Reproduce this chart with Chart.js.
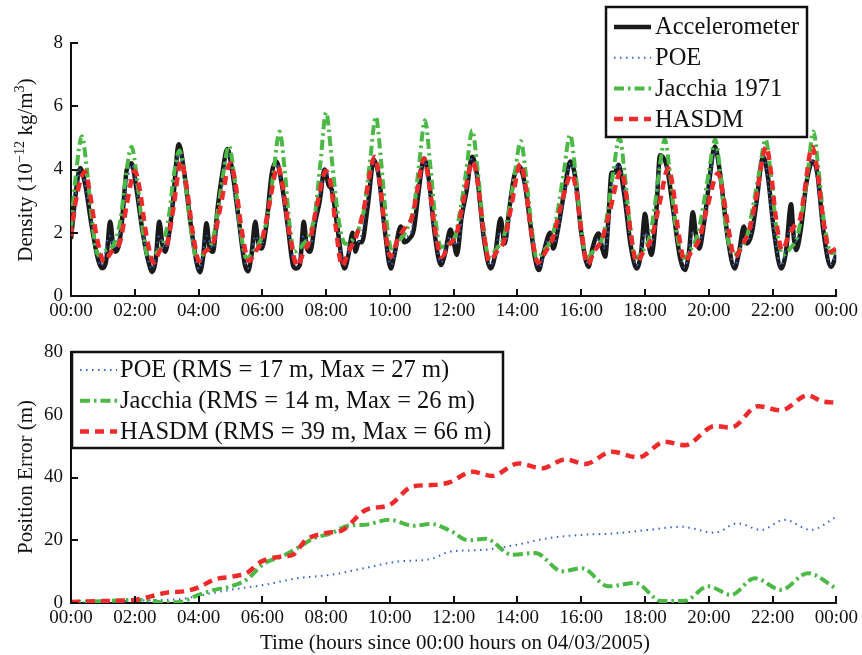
<!DOCTYPE html>
<html>
<head>
<meta charset="utf-8">
<script src="https://cdn.jsdelivr.net/npm/chart.js@4/dist/chart.umd.min.js"></script>
<style>
  body { margin: 0; background: #fff; }
  canvas { position: absolute; left: 0; }
  #density { top: 0; }
  #error { top: 320px; }
</style>
</head>
<body>
<canvas id="density" width="862" height="320"></canvas>
<canvas id="error" width="862" height="335"></canvas>
<script>
const hourTicks = ['00:00', '02:00', '04:00', '06:00', '08:00', '10:00', '12:00',
  '14:00', '16:00', '18:00', '20:00', '22:00', '00:00'];
const densityLabels = ['Accelerometer', 'POE', 'Jacchia 1971', 'HASDM'];
const errorLabels = ['POE (RMS = 17 m, Max = 27 m)', 'Jacchia (RMS = 14 m, Max = 26 m)',
  'HASDM (RMS = 39 m, Max = 66 m)'];

// density, hours since 00:00 -> 10^-12 kg/m^3
const accelTime = [
  0, 0.12, 0.29, 0.45, 0.65, 0.85, 0.97, 1.1, 1.23, 1.32, 1.4, 1.52, 1.62, 1.75,
  1.9, 2.05, 2.25, 2.45, 2.55, 2.65, 2.77, 2.87, 2.95, 3.08, 3.2,
  3.38, 3.55, 3.75, 3.95, 4.04, 4.14, 4.25, 4.35, 4.45, 4.6, 4.75,
  4.9, 5.05, 5.25, 5.45, 5.55, 5.66, 5.78, 5.88, 5.98, 6.12, 6.3,
  6.44, 6.6, 6.8, 6.97, 7.06, 7.18, 7.3, 7.4, 7.5, 7.65, 7.8,
  7.95, 8.08, 8.18, 8.35, 8.5, 8.58, 8.7, 8.83, 8.92, 9.02, 9.12, 9.3,
  9.5, 9.65, 9.85, 10.03, 10.14, 10.34, 10.45, 10.6, 10.75, 10.9,
  11.07, 11.22, 11.4, 11.6, 11.72, 11.9, 12.0, 12.1, 12.25, 12.4,
  12.58, 12.72, 12.95, 13.16, 13.3, 13.47, 13.6, 13.75, 13.9,
  14.05, 14.22, 14.4, 14.55, 14.67, 14.8, 15.03, 15.12, 15.25, 15.45,
  15.66, 15.82, 16.0, 16.23, 16.35, 16.54, 16.66, 16.75, 16.85, 16.95, 17.05,
  17.17, 17.35, 17.55, 17.74, 17.88, 18.0, 18.12, 18.2, 18.35,
  18.47, 18.68, 18.9, 19.1, 19.25, 19.38, 19.5, 19.6, 19.7, 19.85, 20.0,
  20.19, 20.35, 20.6, 20.81, 20.95, 21.1, 21.2, 21.35, 21.5,
  21.7, 21.85, 22.05, 22.27, 22.42, 22.58, 22.66, 22.74, 22.9, 23.05,
  23.26, 23.4, 23.6, 23.83, 24
];
const accelValue = [
  1.8, 3.0, 4.05, 3.5, 2.2, 1.15, 0.88, 1.1, 2.35, 1.6, 1.4, 1.7, 2.6, 4.0,
  4.2, 3.4, 2.0, 1.0, 0.76, 1.1, 2.35, 1.6, 1.4, 2.0, 3.0,
  4.8, 3.9, 2.3, 1.0, 0.75, 1.2, 2.3, 1.5, 1.4, 2.8, 3.9,
  4.65, 4.0, 2.5, 1.0, 0.78, 1.3, 2.35, 1.6, 1.5, 2.2, 3.9,
  4.25, 3.6, 2.2, 0.95, 0.87, 1.0, 2.35, 1.5, 1.4, 2.3, 3.0,
  4.0, 3.5, 3.35, 2.2, 1.1, 0.87, 1.3, 2.0, 1.4, 1.7, 1.7, 2.8,
  4.3, 3.8, 2.0, 0.87, 1.3, 2.2, 1.7, 1.8, 2.1, 3.3,
  4.35, 3.7, 2.0, 0.98, 1.3, 2.1, 1.7, 1.3, 2.5, 3.3,
  4.4, 3.9, 1.8, 0.87, 1.3, 2.45, 1.66, 2.8, 3.8,
  4.1, 3.6, 2.3, 1.2, 0.82, 1.3, 2.0, 1.5, 2.0, 3.2,
  4.25, 3.7, 2.0, 0.92, 1.5, 1.98, 1.5, 1.24, 2.4, 3.9, 3.9,
  4.15, 3.2, 1.6, 0.87, 1.4, 2.6, 1.6, 1.3, 2.6,
  4.45, 4.1, 2.6, 1.2, 0.82, 1.4, 2.65, 1.9, 1.5, 2.3, 3.5,
  4.73, 3.9, 1.8, 0.87, 1.4, 2.2, 1.66, 2.0, 3.0,
  4.4, 3.8, 2.0, 0.87, 1.4, 2.9, 1.9, 1.45, 2.2, 3.5,
  4.25, 3.9, 2.0, 0.92, 1.3
];

const poeTime = [
  0, 0.3, 0.55, 0.95, 1.2, 1.4, 1.65, 1.9, 2.2, 2.55,
  2.77, 2.95, 3.2, 3.38, 3.7, 4.02, 4.25, 4.45, 4.7, 4.9,
  5.2, 5.55, 5.78, 5.98, 6.25, 6.45, 6.75, 7.06, 7.3, 7.5,
  7.75, 7.97, 8.25, 8.57, 8.83, 9.0, 9.25, 9.5, 9.8, 10.03,
  10.34, 10.6, 10.85, 11.07, 11.35, 11.6, 11.9, 12.1, 12.35, 12.58,
  12.9, 13.16, 13.47, 13.65, 13.9, 14.07, 14.35, 14.67, 15.0, 15.15,
  15.45, 15.66, 15.95, 16.23, 16.54, 16.75, 17.0, 17.18, 17.5, 17.74,
  18.0, 18.2, 18.48, 18.7, 19.05, 19.25, 19.5, 19.7, 20.0, 20.2,
  20.55, 20.81, 21.1, 21.25, 21.5, 21.72, 22.0, 22.27, 22.58, 22.75,
  23.05, 23.26, 23.55, 23.83, 24
];
const poeValue = [
  1.9, 4.0, 2.9, 0.95, 1.9, 1.5, 2.8, 4.15, 2.3, 0.85,
  1.9, 1.5, 3.0, 4.6, 2.5, 0.85, 1.9, 1.5, 3.1, 4.5,
  2.6, 0.88, 1.9, 1.6, 3.3, 4.2, 2.4, 0.95, 1.9, 1.6,
  2.9, 4.0, 3.0, 0.95, 1.7, 1.7, 2.7, 4.3, 2.3, 0.98,
  1.9, 1.9, 3.1, 4.3, 2.3, 1.05, 1.9, 1.6, 3.1, 4.35,
  2.1, 0.95, 2.0, 1.8, 3.6, 4.1, 2.7, 0.9, 1.8, 1.7,
  3.1, 4.2, 2.3, 0.98, 1.8, 1.5, 3.7, 4.15, 2.0, 0.95,
  2.0, 1.6, 4.2, 4.0, 1.7, 0.9, 2.0, 1.7, 3.4, 4.6,
  2.1, 0.95, 1.8, 1.8, 3.0, 4.4, 2.3, 0.95, 2.2, 1.7,
  3.4, 4.3, 2.3, 1.0, 1.35
];

const jacTime = [
  0, 0.15, 0.34, 0.5, 0.68, 0.85, 1.1, 1.35, 1.55, 1.72,
  1.9, 2.07, 2.25, 2.43, 2.65, 2.9, 3.08, 3.22,
  3.4, 3.57, 3.75, 3.95, 4.2, 4.45, 4.62, 4.78,
  4.95, 5.12, 5.3, 5.5, 5.75, 6.0, 6.18, 6.35,
  6.54, 6.7, 6.85, 7.0, 7.25, 7.5, 7.65, 7.82,
  8.0, 8.17, 8.38, 8.6, 8.85, 9.05, 9.2, 9.38,
  9.56, 9.72, 9.88, 10.05, 10.3, 10.55, 10.75, 10.92,
  11.1, 11.26, 11.42, 11.6, 11.85, 12.05, 12.22, 12.4,
  12.58, 12.75, 12.92, 13.1, 13.35, 13.58, 13.75, 13.92,
  14.1, 14.27, 14.43, 14.6, 14.85, 15.1, 15.28, 15.45,
  15.65, 15.82, 15.98, 16.15, 16.4, 16.65, 16.82, 17.0,
  17.2, 17.36, 17.52, 17.7, 17.95, 18.15, 18.3, 18.45,
  18.62, 18.78, 18.95, 19.22, 19.45, 19.65, 19.82, 20.0,
  20.2, 20.36, 20.52, 20.78, 21.0, 21.2, 21.38, 21.58,
  21.78, 21.94, 22.1, 22.32, 22.55, 22.78, 22.95, 23.1,
  23.28, 23.44, 23.62, 23.85, 24
];
const jacValue = [
  2.2, 3.8, 5.05, 4.0, 2.2, 1.3, 1.45, 1.65, 2.4, 3.8,
  4.72, 3.7, 2.1, 1.2, 1.35, 1.7, 2.6, 3.8,
  4.6, 3.7, 2.2, 1.15, 1.4, 1.8, 2.8, 3.9,
  4.75, 3.8, 2.2, 1.2, 1.45, 1.9, 2.6, 3.9,
  5.2, 4.0, 2.3, 1.4, 1.6, 2.0, 2.6, 4.2,
  5.8, 4.4, 2.5, 1.65, 1.8, 2.2, 2.8, 4.3,
  5.67, 4.3, 2.5, 1.5, 1.75, 2.15, 2.8, 4.2,
  5.56, 4.2, 2.5, 1.55, 1.65, 1.9, 2.8, 4.0,
  5.24, 4.0, 2.3, 1.25, 1.5, 1.9, 2.8, 3.9,
  4.9, 3.8, 2.3, 1.2, 1.45, 1.9, 2.8, 3.9,
  5.1, 3.9, 2.3, 1.2, 1.45, 1.8, 2.6, 3.9,
  5.0, 3.9, 2.3, 1.2, 1.45, 1.9, 2.8, 4.0,
  4.95, 3.9, 2.3, 1.2, 1.5, 1.95, 2.8, 3.9,
  4.95, 3.9, 2.3, 1.3, 1.5, 1.9, 2.8, 3.9,
  4.95, 3.9, 2.3, 1.3, 1.5, 1.9, 2.8, 3.9,
  5.2, 4.0, 2.3, 1.35, 1.45
];

const hasTime = [
  0, 0.15, 0.44, 0.6, 0.8, 1.05, 1.2, 1.35, 1.55, 1.75,
  2.0, 2.15, 2.35, 2.6, 2.8, 3.0, 3.2,
  3.45, 3.62, 3.82, 4.02, 4.2, 4.45, 4.7,
  5.0, 5.15, 5.35, 5.58, 5.78, 6.0, 6.2,
  6.49, 6.65, 6.85, 7.1, 7.3, 7.5, 7.7,
  8.0, 8.15, 8.3, 8.5, 8.7, 8.95, 9.15,
  9.53, 9.68, 9.85, 10.02, 10.25, 10.5, 10.7, 10.85,
  11.07, 11.22, 11.4, 11.62, 11.85, 12.1, 12.3,
  12.6, 12.75, 12.93, 13.12, 13.35, 13.6, 13.8,
  14.1, 14.25, 14.42, 14.65, 14.88, 15.1, 15.35,
  15.7, 15.85, 16.0, 16.2, 16.4, 16.65, 16.9,
  17.25, 17.4, 17.55, 17.74, 17.95, 18.2, 18.45,
  18.73, 18.88, 19.05, 19.25, 19.45, 19.7, 19.95,
  20.29, 20.45, 20.62, 20.81, 21.05, 21.3, 21.5,
  21.8, 21.95, 22.1, 22.3, 22.5, 22.7, 22.88, 23.0,
  23.24, 23.4, 23.58, 23.8, 24
];
const hasValue = [
  1.9, 3.0, 3.93, 3.2, 1.9, 1.08, 1.3, 1.5, 1.75, 2.9,
  3.95, 3.4, 2.0, 1.05, 1.45, 1.6, 2.7,
  4.25, 3.5, 2.0, 1.1, 1.4, 1.65, 2.9,
  4.2, 3.6, 2.1, 1.1, 1.4, 1.8, 2.8,
  4.1, 3.4, 2.0, 0.95, 1.4, 1.8, 2.8,
  3.95, 3.5, 2.2, 0.95, 1.4, 1.9, 2.6,
  4.4, 3.6, 2.1, 1.25, 1.8, 2.2, 2.5, 3.3,
  4.35, 3.6, 2.2, 1.24, 1.6, 2.0, 3.0,
  4.25, 3.6, 2.1, 1.1, 1.4, 1.8, 2.8,
  4.18, 3.5, 2.1, 1.05, 1.4, 1.8, 2.8,
  3.85, 3.3, 2.1, 1.0, 1.4, 1.8, 2.7,
  3.95, 3.3, 2.0, 1.08, 1.4, 1.8, 2.9,
  4.04, 3.4, 2.0, 1.1, 1.4, 1.8, 2.8,
  3.88, 3.2, 2.1, 1.24, 1.6, 2.2, 3.2,
  4.72, 3.9, 2.5, 1.45, 1.9, 2.24, 2.5, 3.3,
  4.72, 4.0, 2.5, 1.4, 1.5
];

// position error, hours -> m
const poeErrTime = [0, 1, 2, 2.9, 3.5, 4.0, 5.0, 6.07, 7.1, 8.16, 9.2, 10.24, 11.28, 11.9,
  12.9, 13.94, 14.98, 16.02, 17.06, 18.1, 19.14, 20.19, 20.9, 21.64, 22.37, 23.2, 24];
const poeErrValue = [0.1, 0.3, 0.8, 1.0, 1.3, 2.3, 4.2, 5.8, 7.9, 9.0, 11.1, 13.2, 14.0, 16.4,
  16.9, 18.5, 20.7, 21.7, 22.2, 23.3, 24.3, 22.4, 25.4, 23.3, 26.5, 23.3, 27.5];

const jacErrTime = [0, 1, 2, 2.5, 2.9, 3.4, 4.0, 4.5, 5.02, 5.5, 6.07, 6.6, 7.1, 7.63, 8.16,
  8.68, 9.2, 9.98, 10.76, 11.28, 11.9, 12.45, 13.0, 13.83, 14.56, 15.4, 16.02, 16.85, 17.69,
  18.52, 19.25, 19.98, 20.7, 21.44, 22.27, 23.1, 24];
const jacErrValue = [0.3, 0.6, 1.0, 0.8, 0.2, 0.3, 2.6, 4.2, 5.3, 7.4, 12.7, 14.8, 17.5, 20.7, 22.2,
  24.6, 24.9, 26.5, 24.6, 25.2, 23.0, 20.0, 20.5, 15.4, 15.9, 10.1, 11.1, 5.3, 6.4,
  0.6, 0.7, 5.3, 2.6, 7.9, 4.2, 9.5, 4.6];

const hasErrTime = [0, 1, 2, 2.5, 3, 3.6, 4, 4.5, 5.1, 5.5, 5.97, 6.6, 6.96, 7.37, 7.95, 8.52,
  9.25, 9.98, 10.7, 11.33, 11.85, 12.58, 13.2, 14.04, 14.77, 15.5, 16.12, 16.96, 17.79, 18.62,
  19.25, 20.19, 20.7, 21.54, 22.27, 23.1, 23.52, 24];
const hasErrValue = [0.3, 0.6, 1.0, 2.1, 3.3, 3.8, 5.0, 7.5, 8.5, 9.5, 13.2, 14.8, 15.4, 20.1, 22.2, 23.3,
  29.7, 31.2, 37.1, 37.6, 38.4, 41.8, 40.5, 44.5, 42.9, 45.8, 44.3, 48.2, 46.4, 51.4,
  50.3, 56.4, 55.9, 62.7, 61.4, 66.2, 64.4, 63.8];

const FONT = '"Liberation Serif", "Times New Roman", serif';
const INK = '#111';

function pairs(ts, vs) {
  return ts.map((t, i) => ({ x: t, y: vs[i] }));
}

const styles = {
  accel: { borderColor: '#1a1a1a', borderWidth: 4.5, borderDash: [] },
  poe: { borderColor: '#3566cc', borderWidth: 2, borderDash: [1.5, 4.5] },
  jac: { borderColor: '#4cb846', borderWidth: 4, borderDash: [10, 4, 2.5, 4] },
  has: { borderColor: '#ee2a2a', borderWidth: 4.5, borderDash: [9, 6] }
};

// draws inward tick marks, axis titles and boxed legend
function drawRich(ctx, parts, cx, cy, size, rotate) {
  ctx.save();
  ctx.translate(cx, cy);
  if (rotate) ctx.rotate(-Math.PI / 2);
  ctx.fillStyle = INK;
  ctx.textBaseline = 'alphabetic';
  let total = 0;
  parts.forEach(p => {
    ctx.font = (p.sup ? size * 0.68 : size) + 'px ' + FONT;
    total += ctx.measureText(p.t).width;
  });
  let x = -total / 2;
  parts.forEach(p => {
    ctx.font = (p.sup ? size * 0.68 : size) + 'px ' + FONT;
    ctx.fillText(p.t, x, p.sup ? size * 0.35 - size * 0.42 : size * 0.35);
    x += ctx.measureText(p.t).width;
  });
  ctx.restore();
}

function decor(cfg) {
  return {
    id: 'decor',
    afterDraw(chart) {
      const ctx = chart.ctx, a = chart.chartArea;
      const xs = chart.scales.x, ys = chart.scales.y;
      ctx.save();
      ctx.strokeStyle = INK;
      ctx.lineWidth = 2;
      ctx.beginPath();
      xs.ticks.forEach(t => {
        const px = Math.round(xs.getPixelForValue(t.value));
        ctx.moveTo(px, a.bottom);
        ctx.lineTo(px, a.bottom - 7);
      });
      ys.ticks.forEach(t => {
        const py = Math.round(ys.getPixelForValue(t.value));
        ctx.moveTo(a.left, py);
        ctx.lineTo(a.left + 7, py);
      });
      ctx.stroke();
      ctx.restore();

      drawRich(ctx, cfg.yTitle, 25, cfg.yTitleY, 21, true);
      if (cfg.xTitle) drawRich(ctx, cfg.xTitle, 455, cfg.xTitleY, 21, false);

      const box = cfg.legend;
      ctx.save();
      ctx.fillStyle = '#fff';
      ctx.fillRect(box.x, box.y, box.w, box.h);
      ctx.lineWidth = 2.5;
      ctx.strokeStyle = INK;
      ctx.strokeRect(box.x, box.y, box.w, box.h);
      ctx.font = '24.5px ' + FONT;
      ctx.textBaseline = 'middle';
      chart.data.datasets.forEach((ds, i) => {
        const y = box.y + box.row0 + i * box.gap;
        ctx.save();
        ctx.strokeStyle = ds.borderColor;
        ctx.lineWidth = ds.borderWidth;
        ctx.setLineDash(ds.borderDash || []);
        ctx.beginPath();
        ctx.moveTo(box.x + 8, y);
        ctx.lineTo(box.x + 45, y);
        ctx.stroke();
        ctx.restore();
        ctx.fillStyle = INK;
        ctx.fillText(ds.label, box.x + box.textX, y + 1);
      });
      ctx.restore();
    }
  };
}

function axes(yMax, yStep, xHeight) {
  return {
    x: {
      type: 'linear', min: 0, max: 24,
      ticks: {
        stepSize: 2, autoSkip: false, maxRotation: 0, minRotation: 0,
        callback: v => hourTicks[v / 2],
        font: { family: FONT, size: 19 }, color: INK, padding: 4
      },
      grid: { display: false, drawTicks: false },
      border: { display: true, color: INK, width: 2 },
      afterFit: s => { s.height = xHeight; }
    },
    y: {
      min: 0, max: yMax,
      ticks: { stepSize: yStep, font: { family: FONT, size: 19 }, color: INK, padding: 8 },
      grid: { display: false, drawTicks: false },
      border: { display: true, color: INK, width: 2 },
      afterFit: s => { s.width = 71; }
    }
  };
}

const common = {
  responsive: false,
  animation: false,
  events: [],
  elements: { point: { radius: 0 }, line: { cubicInterpolationMode: 'monotone', borderCapStyle: 'butt' } },
  plugins: { legend: { display: false }, tooltip: { enabled: false } }
};

new Chart(document.getElementById('density'), {
  type: 'line',
  data: {
    datasets: [
      { label: densityLabels[0], data: pairs(accelTime, accelValue), ...styles.accel, order: 4 },
      { label: densityLabels[1], data: pairs(poeTime, poeValue), ...styles.poe, order: 3 },
      { label: densityLabels[2], data: pairs(jacTime, jacValue), ...styles.jac, order: 2 },
      { label: densityLabels[3], data: pairs(hasTime, hasValue), ...styles.has, order: 1 }
    ]
  },
  options: {
    ...common,
    layout: { padding: { top: 43, right: 25, left: 0, bottom: 0 } },
    scales: axes(8, 2, 24)
  },
  plugins: [decor({
    yTitle: [{ t: 'Density (10' }, { t: '\u221212', sup: true }, { t: ' kg/m' }, { t: '3', sup: true }, { t: ')' }],
    yTitleY: 170,
    legend: { x: 606, y: 7, w: 201, h: 130, row0: 20, gap: 30.7, textX: 49 }
  })]
});

new Chart(document.getElementById('error'), {
  type: 'line',
  data: {
    datasets: [
      { label: errorLabels[0], data: pairs(poeErrTime, poeErrValue), ...styles.poe, order: 3 },
      { label: errorLabels[1], data: pairs(jacErrTime, jacErrValue), ...styles.jac, order: 2 },
      { label: errorLabels[2], data: pairs(hasErrTime, hasErrValue), ...styles.has, order: 1 }
    ]
  },
  options: {
    ...common,
    layout: { padding: { top: 32, right: 25, left: 0, bottom: 0 } },
    scales: axes(80, 20, 52)
  },
  plugins: [decor({
    yTitle: [{ t: 'Position Error (m)' }],
    yTitleY: 157,
    xTitle: [{ t: 'Time (hours since 00:00 hours on 04/03/2005)' }],
    xTitleY: 322,
    legend: { x: 72, y: 32, w: 431, h: 96, row0: 18, gap: 30.8, textX: 48 }
  })]
});
</script>
</body>
</html>
